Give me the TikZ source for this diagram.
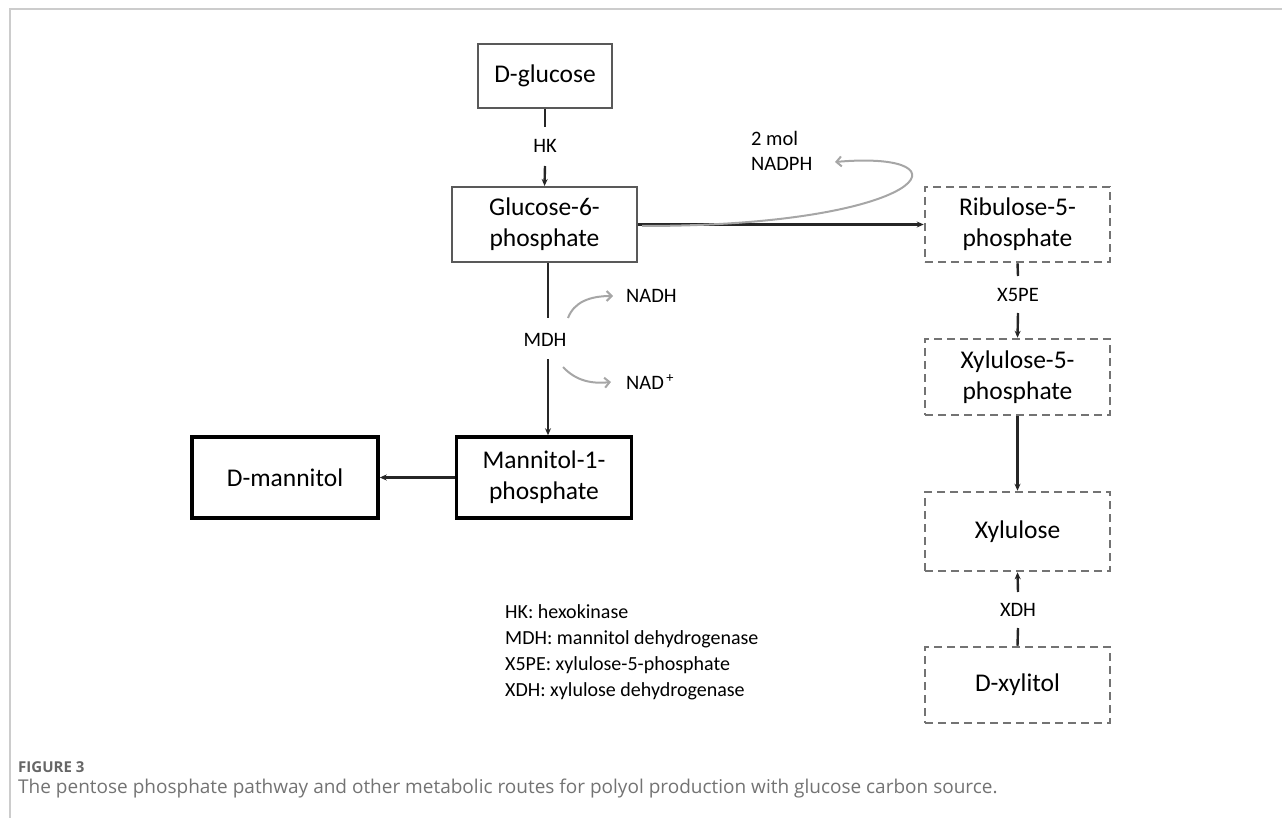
\documentclass[tikz,border=0pt]{standalone}
\usepackage{fontspec}
\setmainfont{Carlito}
\newfontfamily\capfont{Open Sans}
\usetikzlibrary{arrows.meta}
\begin{document}
\begin{tikzpicture}[x=1pt,y=-1pt,
  box/.style={draw=black!65, line width=2pt, align=center, inner sep=0pt,
    font=\fontsize{25.5}{31}\selectfont},
  boldbox/.style={box, draw=black, line width=3.5pt},
  dbox/.style={box, draw=black!55, line width=2.5pt, dash pattern=on 8pt off 5pt},
  lbl/.style={font=\fontsize{20.5}{24}\selectfont, inner sep=0pt},
  arr/.style={-{Stealth[length=7pt,width=6pt]}, line width=2.4pt, draw=black!85},
  plain/.style={line width=2.4pt, draw=black!85},
  garr/.style={-{Straight Barb[length=5pt,width=10pt]}, line width=2pt, draw=black!35},
]
\useasboundingbox (0,0) rectangle (1282,818);
% frame
\draw[black!20, line width=1.5pt] (10,818) -- (10,9) -- (1282,9);

% boxes
\node[box, minimum width=134pt, minimum height=64pt] (dglc) at (545,76) {D-glucose};
\node[box, minimum width=185pt, minimum height=75pt] (g6p) at (544.5,224.5) {Glucose-6-\\phosphate};
\node[boldbox, minimum width=175pt, minimum height=81pt] (m1p) at (544,477.5) {Mannitol-1-\\phosphate};
\node[boldbox, minimum width=186pt, minimum height=81pt] (dman) at (285,477.5) {D-mannitol};
\node[dbox, minimum width=185pt, minimum height=75pt] (ribu) at (1017.5,224.5) {Ribulose-5-\\phosphate};
\node[dbox, minimum width=185pt, minimum height=76pt] (xyl5p) at (1017.5,377) {Xylulose-5-\\phosphate};
\node[dbox, minimum width=185pt, minimum height=79pt] (xylu) at (1017.5,531.5) {Xylulose};
\node[dbox, minimum width=185pt, minimum height=76pt] (xylt) at (1017.5,685) {D-xylitol};

% labels
\node[lbl] (hk) at (545,146) {HK};
\node[lbl] (mdh) at (545,340) {MDH};
\node[lbl] (x5pe) at (1018,295) {X5PE};
\node[lbl] (xdh) at (1018,610) {XDH};
\node[lbl, anchor=west] (nadh) at (626,296) {NADH};
\node[lbl, anchor=west] (nadp) at (626,382) {NAD\textsuperscript{\,+}};
\node[lbl, anchor=north west, align=left] (nadph) at (751,131) {2 mol\\[1pt]NADPH};

% HK
\coordinate (hkA) at (545,127);
\coordinate (hkB) at (545,166);
\draw[plain] (dglc.south) -- (hkA);
\draw[arr] (hkB) -- (g6p.north);

% MDH
\coordinate (mdhA) at (548,318);
\coordinate (mdhB) at (548,359);
\draw[plain, line width=2.6pt] (g6p.south -| mdhA) -- (mdhA);
\draw[arr, line width=2pt] (mdhB) -- (m1p.north -| mdhB);
\coordinate (nadhS) at (568,318);
\coordinate (nadhE) at (613,296);
\coordinate (nadS) at (563,367);
\coordinate (nadE) at (611,382);
\draw[garr] (nadhS) .. controls (574,302) and (590,296) .. (nadhE);
\draw[garr] (nadS) .. controls (576,381) and (592,384) .. (nadE);

% mannitol
\draw[arr] (m1p.west) -- (dman.east);

% pentose
\draw[arr] (g6p.east) -- (ribu.west);
\coordinate (nadphS) at (642,226);
\coordinate (nadphE) at (835,162);
\draw[garr] (nadphS) .. controls (930,226) and (975,150) .. (nadphE);

% X5PE
\coordinate (x5A) at (1018,276);
\coordinate (x5B) at (1018,313);
\draw[plain] (ribu.south) -- (x5A);
\draw[arr] (x5B) -- (xyl5p.north);
\draw[arr] (xyl5p.south) -- (xylu.north);

% XDH
\coordinate (xdA) at (1018,592);
\coordinate (xdB) at (1018,628);
\draw[arr] (xdA) -- (xylu.south);
\draw[plain] (xylt.north) -- (xdB);

% legend
\node[lbl, anchor=north west, align=left, font=\fontsize{20}{26}\selectfont] (legend) at (505,604)
  {HK: hexokinase\\MDH: mannitol dehydrogenase\\X5PE: xylulose-5-phosphate\\XDH: xylulose dehydrogenase};

% caption
\node[anchor=west, inner sep=0pt, text=black!60, font=\capfont\bfseries\fontsize{15}{18}\selectfont] (fig) at (18,767) {FIGURE 3};
\node[anchor=west, inner sep=0pt, text=black!55, font=\capfont\fontsize{19}{22}\selectfont] (cap) at (18,789) {The pentose phosphate pathway and other metabolic routes for polyol production with glucose carbon source.};
\end{tikzpicture}
\end{document}
